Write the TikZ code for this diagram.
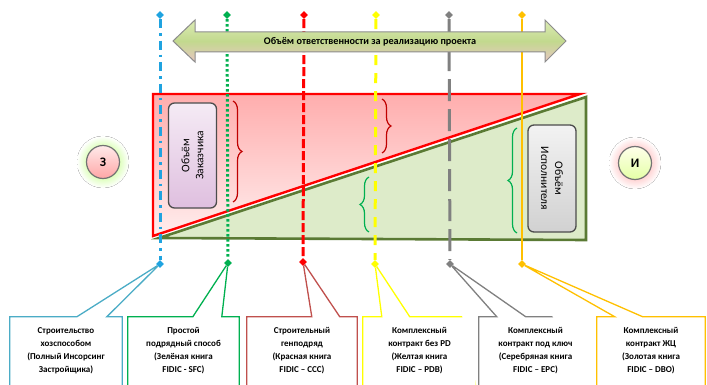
\documentclass[tikz,border=0pt]{standalone}
\usepackage{fontspec}
\setmainfont{Carlito}
\usetikzlibrary{shapes.geometric,decorations.pathreplacing,calc}
\pgfdeclarelayer{back}
\pgfsetlayers{back,main}
\definecolor{fblue}{HTML}{1FA3E0}
\definecolor{fbluebox}{HTML}{4BACC6}
\definecolor{fgreen}{HTML}{00B050}
\definecolor{fred}{HTML}{FF0000}
\definecolor{fredbox}{HTML}{C0504D}
\definecolor{fyellow}{HTML}{FFFF00}
\definecolor{fgray}{HTML}{808080}
\definecolor{fgold}{HTML}{FFC000}
\definecolor{execline}{HTML}{5A7A34}
\definecolor{execfill}{HTML}{DDEBC9}
\definecolor{bracered}{HTML}{C00000}
\definecolor{arrowtop}{HTML}{DCEBB5}
\definecolor{arrowmid}{HTML}{C2D98E}
\definecolor{arrowbot}{HTML}{E8C6C2}
\tikzset{
tip/.style={diamond,fill,inner sep=0pt,minimum size=8pt},
callout/.style={line width=1.3pt,fill=white,line join=miter},
booktext/.style={font=\bfseries\fontsize{9}{13}\selectfont,align=center,minimum height=68pt,inner sep=0pt},
share/.style={rounded corners=6pt,draw=black!70,line width=1.3pt,align=center,font=\fontsize{11.5}{14}\selectfont,minimum width=105pt,minimum height=48pt,inner sep=1pt},
party/.style={circle,draw=black!55,line width=1.2pt,minimum size=33pt,inner sep=0pt,font=\bfseries\fontsize{13}{13}\selectfont},
scopebrace/.style={decorate,decoration={brace,amplitude=9pt},line width=1.2pt},
}

\begin{document}
\begin{tikzpicture}[x=1pt,y=-1pt]
\clip (0,0) rectangle (707,385);

\fill[inner color=green!50!yellow!70,outer color=white] (103,162) circle (26pt);
\node[party,top color=red!8,bottom color=red!35] (cust) at (103,162) {З};
\fill[inner color=red!45,outer color=white] (635,163) circle (26pt);
\node[party,top color=yellow!8,bottom color=green!30!yellow!35] (exec) at (635,163) {И};

\path[fill=execfill,draw=execline,line width=2.6pt,line join=miter] (159,238) -- (586,97) -- (586,240) -- cycle;
\path[top color=red!32!white,bottom color=red!7!white,draw=fred,line width=2.4pt,line join=miter] (153,94) -- (580,94) -- (153,236) -- cycle;

\node[share,rotate=90,top color=violet!8,bottom color=violet!25] (custshare) at (192.5,155.5) {Объём\\Заказчика};
\node[share,rotate=-90,minimum width=107pt,top color=black!5,bottom color=black!18] (execshare) at (552,178.5) {Объём\\Исполнителя};

\draw[scopebrace,draw=bracered] (233,101) -- (233,202);
\draw[scopebrace,draw=bracered] (382,99) -- (382,153);
\draw[scopebrace,draw=fgreen] (369,232) -- (369,177);
\draw[scopebrace,draw=fgreen] (517,233) -- (517,128);

\node[tip,fblue] (t1) at (160,15) {};
\node[tip,fgreen] (t2) at (227,15) {};
\node[tip,fred] (t3) at (304,15) {};
\node[tip,fyellow] (t4) at (376,15) {};
\node[tip,fgray] (t5) at (449,15) {};
\node[tip,fgold] (t6) at (522,15) {};
\node[tip,fblue] (b1) at (160,264) {};
\node[tip,fgreen] (b2) at (228,263) {};
\node[tip,fred] (b3) at (303,262) {};
\node[tip,fyellow] (b4) at (375,264) {};
\node[tip,fgray] (b5) at (450,264) {};
\node[tip,fgold] (b6) at (522,264) {};

\draw[fblue,line width=3pt,dash pattern=on 9pt off 5pt on 2.5pt off 5pt] (t1) -- (b1);
\draw[fgreen,line width=3pt,dash pattern=on 2.5pt off 2.5pt] (t2) -- (b2);
\draw[fred,line width=3pt,dash pattern=on 9pt off 3pt] (t3) -- (b3);
\draw[fyellow,line width=3pt,dash pattern=on 10pt off 8pt] (t4) -- (b4);
\draw[fgray,line width=3pt,dash pattern=on 22pt off 8pt] (t5) -- (b5);
\draw[fgold,line width=2.6pt] (t6) -- (b6);

\path[draw=black!45,line width=1pt,line join=miter,top color=arrowtop,bottom color=arrowbot,middle color=arrowmid]
  (173,41) -- (195,20) -- (195,32) -- (545,32) -- (545,20) -- (566,41) -- (545,62) -- (545,52) -- (195,52) -- (195,62) -- cycle;
\node[font=\bfseries\fontsize{10.2}{11}\selectfont] (resp) at (370,42) {Объём ответственности за реализацию проекта};

\node[booktext,minimum width=112pt] (l1) at (66,351) {Строительство\\хозспособом\\(Полный Инсорсинг\\Застройщика)};
\node[booktext,minimum width=111pt] (l2) at (183.5,351) {Простой\\подрядный способ\\(Зелёная книга\\FIDIC - SFC)};
\node[booktext,minimum width=110pt] (l3) at (302,351) {Строительный\\генподряд\\(Красная книга\\FIDIC – CCC)};
\node[booktext,minimum width=113pt] (l4) at (419.5,351) {Комплексный\\контракт без PD\\(Желтая книга\\FIDIC – PDB)};
\node[booktext,minimum width=113pt] (l5) at (535.5,351) {Комплексный\\контракт под ключ\\(Серебряная книга\\FIDIC – EPC)};
\node[booktext,minimum width=108pt] (l6) at (651,351) {Комплексный\\контракт ЖЦ\\(Золотая книга\\FIDIC – DBO)};

\begin{pgfonlayer}{back}
\draw[callout,draw=fbluebox] ([yshift=-12pt]l1.south west) -- (l1.north west) -- ([xshift=67pt]l1.north west) -- (b1) -- ([xshift=97pt]l1.north west) -- (l1.north east) -- ([yshift=-12pt]l1.south east);
\draw[callout,draw=fgreen] ([yshift=-12pt]l2.south west) -- (l2.north west) -- ([xshift=65pt]l2.north west) -- (b2) -- ([xshift=94pt]l2.north west) -- (l2.north east) -- ([yshift=-12pt]l2.south east);
\draw[callout,draw=fredbox] ([yshift=-12pt]l3.south west) -- (l3.north west) -- ([xshift=65pt]l3.north west) -- (b3) -- ([xshift=93pt]l3.north west) -- (l3.north east) -- ([yshift=-12pt]l3.south east);
\draw[callout,draw=fyellow] ([yshift=-12pt]l4.south west) -- (l4.north west) -- ([xshift=19pt]l4.north west) -- (b4) -- ([xshift=47pt]l4.north west) -- (l4.north east) -- ([yshift=-12pt]l4.south east);
\draw[callout,draw=fgray] ([yshift=-12pt]l5.south west) -- (l5.north west) -- ([xshift=18pt]l5.north west) -- (b5) -- ([xshift=47pt]l5.north west) -- (l5.north east) -- ([yshift=-12pt]l5.south east);
\draw[callout,draw=fgold] ([yshift=-12pt]l6.south west) -- (l6.north west) -- ([xshift=18pt]l6.north west) -- (b6) -- ([xshift=46pt]l6.north west) -- (l6.north east) -- ([yshift=-12pt]l6.south east);
\end{pgfonlayer}
\end{tikzpicture}
\end{document}
